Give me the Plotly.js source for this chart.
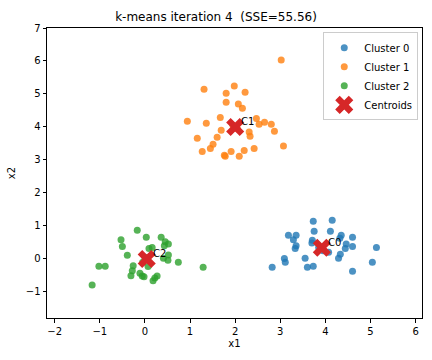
<!DOCTYPE html>
<html><head><meta charset="utf-8">
<script src="https://cdn.plot.ly/plotly-3.0.1.min.js"></script>
<style>body{margin:0}#c{width:432px;height:360px}</style>
</head><body><div id="c"></div>
<script>
const c0x = [3.73,4.15,3.75,4.11,3.18,3.35,3.29,4.35,4.32,4.60,3.71,3.70,3.35,3.33,4.46,4.44,4.60,5.13,4.07,4.33,4.29,3.55,3.09,3.11,2.82,3.60,3.73,5.04,4.60,3.85,3.95];
const c0y = [1.14,1.17,0.84,0.84,0.72,0.72,0.58,0.72,0.63,0.66,0.57,0.48,0.40,0.32,0.45,0.32,0.38,0.35,0.20,0.14,0.02,0.02,0.01,-0.10,-0.25,-0.25,-0.22,-0.10,-0.37,0.35,0.25];
const c1x = [1.31,1.98,1.80,2.22,1.80,2.07,2.16,0.94,1.36,1.67,2.47,2.53,2.65,2.80,2.87,1.69,2.31,2.33,1.60,1.16,1.51,1.45,1.27,1.76,1.78,1.91,2.09,2.20,2.42,3.07,3.02,1.95,2.05];
const c1y = [5.14,5.24,5.02,5.05,4.75,4.70,4.57,4.17,4.11,4.29,4.26,4.08,4.14,4.08,3.87,3.90,3.85,3.72,3.69,3.66,3.48,3.35,3.26,3.14,3.11,3.26,3.11,3.29,3.35,3.42,6.03,4.05,3.95];
const c2x = [-0.17,0.03,0.36,-0.53,-0.50,0.45,0.52,0.43,0.16,0.09,-0.39,0.52,0.51,0.74,0.41,-1.02,-0.88,-0.26,0.07,-0.28,-0.31,-0.11,-0.06,-0.02,0.27,0.22,0.18,1.29,-1.17,0.00,-0.05];
const c2y = [0.87,0.66,0.66,0.58,0.38,0.52,0.45,0.40,0.35,0.32,0.11,0.12,-0.04,-0.10,0.02,-0.22,-0.22,-0.21,-0.23,-0.36,-0.51,-0.43,-0.52,-0.54,-0.52,-0.58,-0.66,-0.25,-0.79,0.05,-0.10];
const centX = [3.92, 2.00, 0.04];
const centY = [0.34, 4.00, 0.00];
const centLabels = ['C0','C1','C2'];
const names = ['Cluster 0','Cluster 1','Cluster 2'];
const colors = ['#1f77b4','#ff7f0e','#2ca02c'];
const xs=[c0x,c1x,c2x], ys=[c0y,c1y,c2y];
const traces = xs.map((x,i)=>({type:'scatter',mode:'markers',x:x,y:ys[i],name:names[i],
  marker:{color:colors[i],size:7,opacity:0.8}}));
traces.push({type:'scatter',mode:'markers',x:centX,y:centY,name:'Centroids',
  marker:{symbol:'x',color:'#d62728',size:16,line:{width:0}}});
const ann = centLabels.map((t,i)=>({x:centX[i],y:centY[i],text:t,showarrow:false,xanchor:'left',yanchor:'middle',xshift:4,yshift:5,font:{size:10,color:'#000'}}));
const ax = {showgrid:false,zeroline:false,showline:true,mirror:true,linecolor:'#000',linewidth:1,ticks:'outside',ticklen:3.5,tickcolor:'#000',tickfont:{size:10,color:'#000'}};
Plotly.newPlot('c',traces,{
  width:432,height:360,
  font:{family:'DejaVu Sans',color:'#000'},
  margin:{l:47,r:10,t:28,b:42},
  paper_bgcolor:'#fff',plot_bgcolor:'#fff',
  title:{text:'k-means iteration 4  (SSE=55.56)',font:{size:12},x:0.5,xanchor:'center',y:0.953,yanchor:'middle'},
  xaxis:Object.assign({},ax,{range:[-2.17,6.14],dtick:1,title:{text:'x1',font:{size:10},standoff:4}}),
  yaxis:Object.assign({},ax,{range:[-1.79,7.0],dtick:1,title:{text:'x2',font:{size:10},standoff:8}}),
  legend:{x:0.99,y:0.985,xanchor:'right',yanchor:'top',bordercolor:'#ccc',borderwidth:1,bgcolor:'rgba(255,255,255,0.8)',font:{size:10},tracegroupgap:0,itemsizing:'trace'},
  annotations:ann,
  showlegend:true
},{displayModeBar:false});
</script></body></html>
